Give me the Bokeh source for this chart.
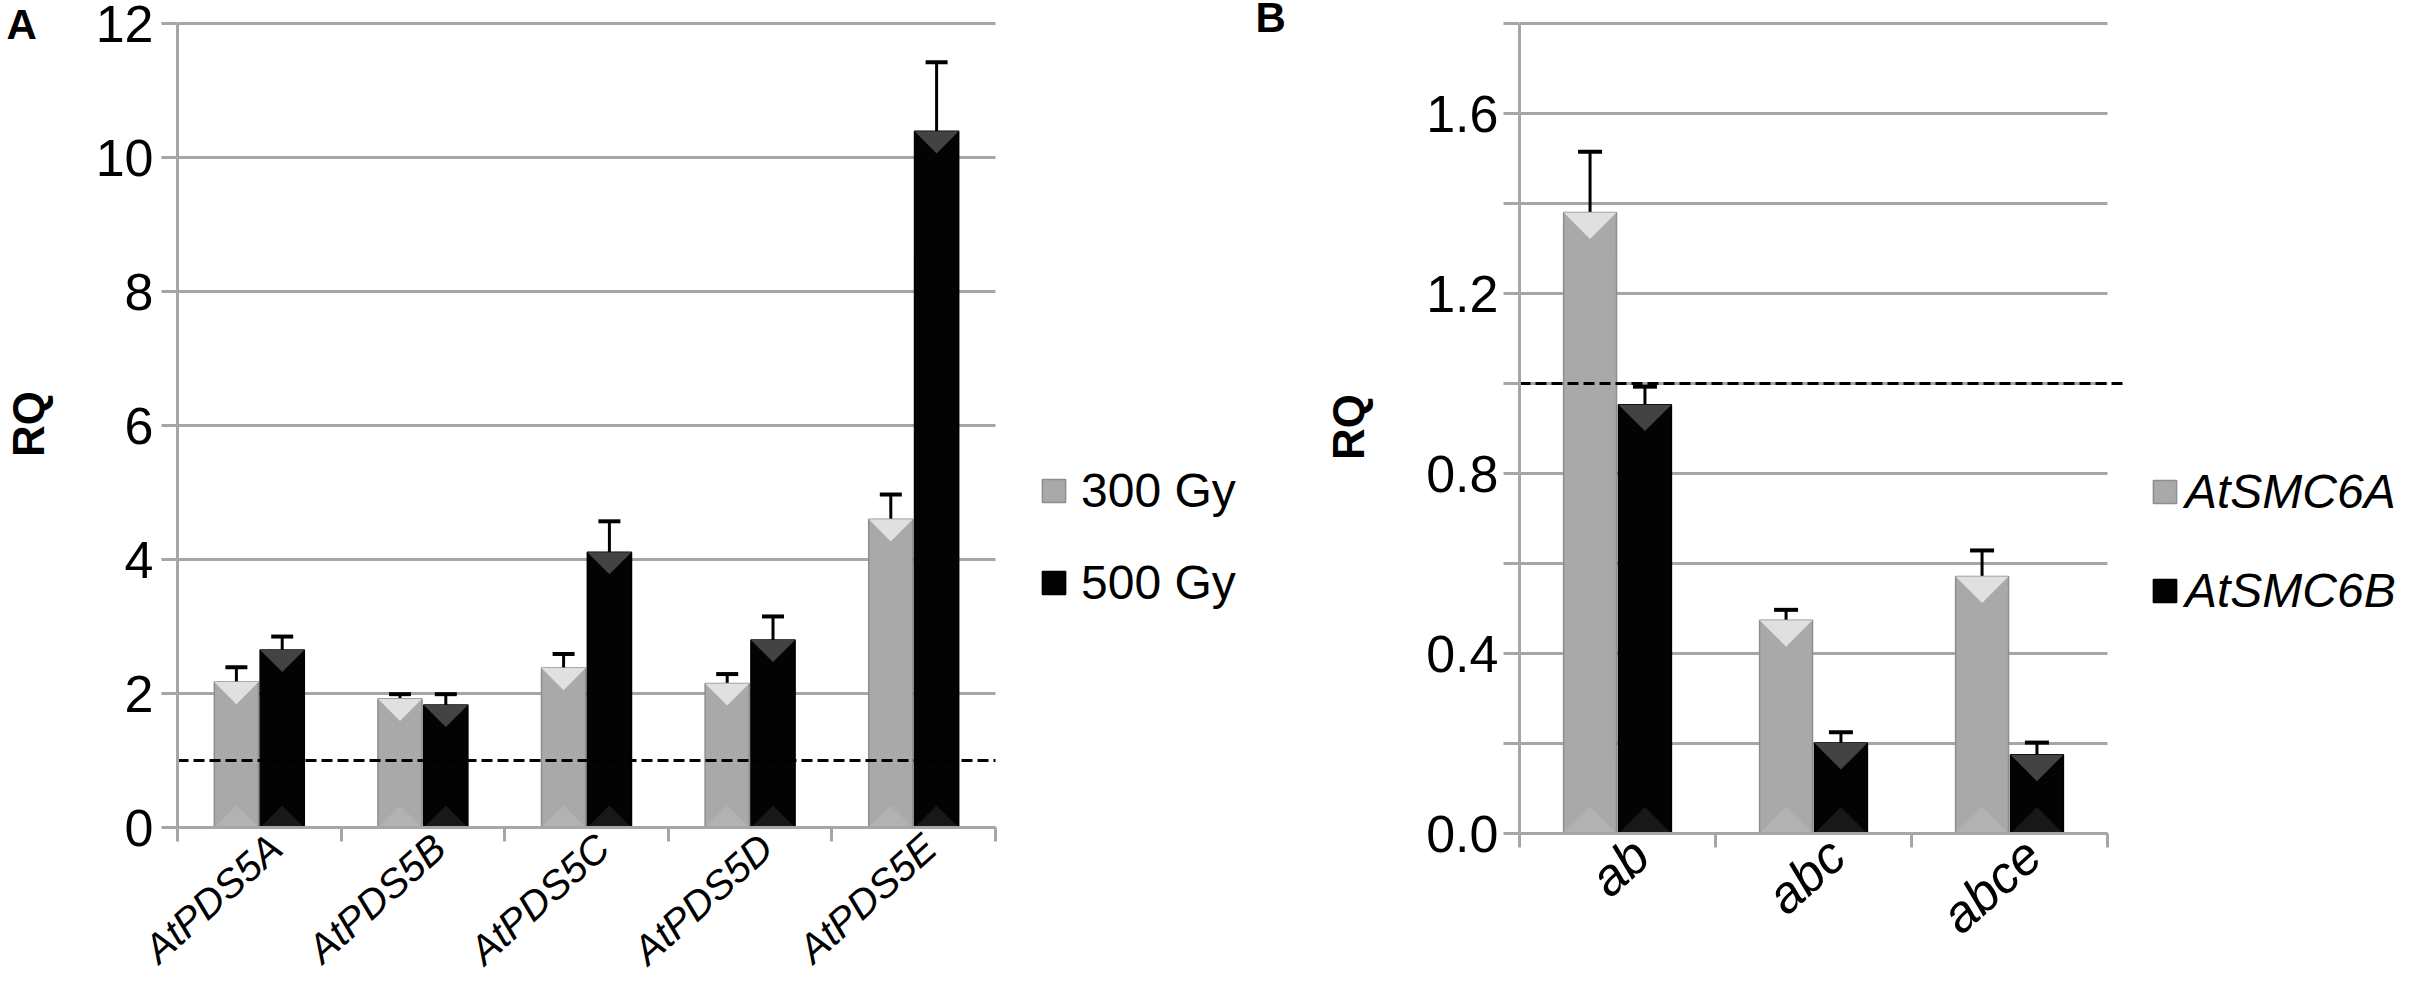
import math
from bokeh.plotting import figure
from bokeh.models import (Range1d, FixedTicker, LinearAxis, Whisker, TeeHead,
                          Legend, LegendItem, ColumnDataSource)
from bokeh.layouts import row
from bokeh.embed import file_html
from bokeh.resources import INLINE

# ---------------- Panel A data ----------------
genes_a = ["AtPDS5A", "AtPDS5B", "AtPDS5C", "AtPDS5D", "AtPDS5E"]
series_a = ["300 Gy", "500 Gy"]
rq_300 = [2.17, 1.92, 2.38, 2.15, 4.60]
err_300 = [0.22, 0.07, 0.21, 0.14, 0.37]
rq_500 = [2.65, 1.83, 4.11, 2.80, 10.39]
err_500 = [0.20, 0.16, 0.46, 0.35, 1.03]
yticks_a = [0, 2, 4, 6, 8, 10, 12]
ylabels_a = ["0", "2", "4", "6", "8", "10", "12"]

# ---------------- Panel B data ----------------
lines_b = ["ab", "abc", "abce"]
series_b = ["AtSMC6A", "AtSMC6B"]
rq_6a = [1.38, 0.474, 0.571]
err_6a = [0.135, 0.023, 0.058]
rq_6b = [0.953, 0.201, 0.175]
err_6b = [0.040, 0.024, 0.027]
yticks_b = [0.0, 0.2, 0.4, 0.6, 0.8, 1.0, 1.2, 1.4, 1.6, 1.8]
ylabels_b = ["0.0", "", "0.4", "", "0.8", "", "1.2", "", "1.6", ""]

baseline_rq = 1.0

GRID = "#a6a6a6"
FONT = "Liberation Sans"
GREY = "#a9a9a9"
BLACK = "#030303"


def make_panel(cats, v1, e1, v2, e2, names, yticks, ylabels, cfg):
    n = len(cats)
    ymax = yticks[-1]
    data_w = cfg["data_w"]            # pixels used by the categories
    fw, fh = cfg["frame_w"], cfg["frame_h"]
    pad = 3                           # keep the top grid line fully visible
    x_end = n * fw / data_w
    y_end = ymax * (fh + pad) / fh
    p = figure(x_range=Range1d(0, x_end), y_range=Range1d(0, y_end),
               frame_width=fw, frame_height=fh + pad,
               min_border_left=cfg["bl"], min_border_right=0,
               min_border_top=cfg["bt"] - pad, min_border_bottom=cfg["bb"],
               x_axis_location=None, y_axis_location=None,
               output_backend="svg", toolbar_location=None)
    for g in p.grid:
        g.visible = False
    p.outline_line_color = None
    p.background_fill_color = "white"
    p.border_fill_color = "white"

    # panel letter as the plot title, pulled to the top-left corner
    p.title.text = cfg["letter"]
    p.title.align = "left"
    p.title.vertical_align = "bottom"
    p.title.offset = cfg["letter_dx"]
    p.title.standoff = cfg["letter_standoff"]
    p.title.text_font = FONT
    p.title.text_font_style = "bold"
    p.title.text_font_size = "42px"
    p.title.text_color = "black"

    # y axis
    yax = LinearAxis(ticker=FixedTicker(ticks=yticks), bounds=(0, ymax),
                     major_label_overrides={t: l for t, l in zip(yticks, ylabels)},
                     axis_label="RQ",
                     axis_label_text_font=FONT, axis_label_text_font_style="bold",
                     axis_label_text_font_size="44px", axis_label_text_color="black",
                     axis_label_standoff=cfg["ylab_standoff"],
                     major_label_text_font=FONT, major_label_text_font_size="52px",
                     major_label_text_color="black",
                     major_label_standoff=cfg["tick_standoff"],
                     axis_line_color=GRID, axis_line_width=3,
                     major_tick_line_color=GRID, major_tick_line_width=3,
                     major_tick_out=16, major_tick_in=0,
                     minor_tick_line_color=None)
    p.add_layout(yax, "left")

    # horizontal grid lines, only across the category area
    p.segment(x0=[0] * len(yticks), x1=[n] * len(yticks), y0=yticks, y1=yticks,
              line_color=GRID, line_width=3, level="underlay")

    # x axis: tick marks at category boundaries, names next to category centres
    centers = [i + 0.5 for i in range(n)]
    label_pos = [c + cfg["label_shift"] for c in centers]
    bounds = list(range(n + 1))
    xl = LinearAxis(ticker=FixedTicker(ticks=label_pos, minor_ticks=bounds),
                    bounds=(0, n),
                    major_label_overrides={c: cat for c, cat in zip(label_pos, cats)},
                    major_label_text_font=FONT, major_label_text_font_style="italic",
                    major_label_text_font_size=cfg["cat_font"],
                    major_label_text_color="black",
                    major_label_orientation=math.radians(cfg["angle"]),
                    major_label_standoff=cfg["cat_standoff"],
                    axis_line_color=GRID, axis_line_width=3,
                    major_tick_line_color=None, major_tick_out=0, major_tick_in=0,
                    minor_tick_line_color=GRID, minor_tick_line_width=3,
                    minor_tick_out=14, minor_tick_in=0)
    p.add_layout(xl, "below")

    off, bw = 0.14, 0.27
    px_x = data_w / n
    px_y = fh / ymax
    d = (bw * px_x / 2) / px_y  # bevel wedge depth in data units

    rends = []
    styles = [(GREY, "#8e8e8e", "#e6e6e6", "#b4b4b4"),
              (BLACK, "#000000", "#4a4a4a", "#1e1e1e")]
    for k, (vals, errs) in enumerate([(v1, e1), (v2, e2)]):
        xs = [c + (-off if k == 0 else off) for c in centers]
        fill, line, wedge, bottom = styles[k]
        src = ColumnDataSource(dict(x=xs, top=vals,
                                    upper=[v + e for v, e in zip(vals, errs)],
                                    lower=[v - e for v, e in zip(vals, errs)]))
        r = p.vbar(x="x", top="top", width=bw, source=src,
                   fill_color=fill, line_color=line, line_width=1.5)
        rends.append(r)
        tri_x = [[x - bw / 2, x + bw / 2, x] for x in xs]
        top_y = [[v, v, v - min(d, v / 2)] for v in vals]
        p.patches(tri_x, top_y, fill_color=wedge, line_color=None, fill_alpha=0.9)
        bot_y = [[0, 0, min(d, v / 2)] for v in vals]
        p.patches(tri_x, bot_y, fill_color=bottom, line_color=None, fill_alpha=0.8)
        wk = Whisker(source=src, base="x", upper="upper", lower="lower",
                     line_color="black", line_width=3,
                     upper_head=TeeHead(size=cfg["cap"], line_width=4, line_color="black"),
                     lower_head=TeeHead(size=cfg["cap"], line_width=4, line_color="black"))
        p.add_layout(wk)

    # RQ = 1 reference line
    p.segment(x0=[0], x1=[n + cfg["dash_extra"]], y0=[baseline_rq], y1=[baseline_rq],
              line_color="black", line_width=3, line_dash="11 5")

    legend = Legend(items=[LegendItem(label=names[0], renderers=[rends[0]]),
                           LegendItem(label=names[1], renderers=[rends[1]])],
                    location=cfg["leg_loc"], orientation="vertical",
                    glyph_width=29, glyph_height=29, label_height=56,
                    label_text_font=FONT, label_text_font_size=cfg["leg_font"],
                    label_text_font_style=cfg["leg_style"],
                    label_text_color="black",
                    label_standoff=cfg["leg_standoff"], spacing=cfg["leg_spacing"],
                    padding=0, margin=0, border_line_color=None,
                    background_fill_alpha=0)
    p.add_layout(legend)
    return p


cfg_a = dict(frame_w=1072, data_w=818, frame_h=804, bl=170, bt=19, bb=163,
             ylab_standoff=40, tick_standoff=8, cat_font="40px", angle=42,
             label_shift=0.1, cat_standoff=0, cap=22, dash_extra=0.0,
             leg_loc=(862, 217), leg_font="48px", leg_style="normal",
             leg_standoff=13, leg_spacing=36,
             letter="A", letter_dx=-171, letter_standoff=-54)
cfg_b = dict(frame_w=883, data_w=588, frame_h=810, bl=270, bt=23, bb=153,
             ylab_standoff=50, tick_standoff=5, cat_font="52px", angle=42,
             label_shift=0.12, cat_standoff=0, cap=24, dash_extra=0.08,
             leg_loc=(631, 215), leg_font="48px", leg_style="italic",
             leg_standoff=6, leg_spacing=43,
             letter="B", letter_dx=-264, letter_standoff=-40)

pa = make_panel(genes_a, rq_300, err_300, rq_500, err_500, series_a,
                yticks_a, ylabels_a, cfg_a)
pb = make_panel(lines_b, rq_6a, err_6a, rq_6b, err_6b, series_b,
                yticks_b, ylabels_b, cfg_b)

layout = row(pa, pb)
open("out.html", "w").write(file_html(layout, INLINE))
